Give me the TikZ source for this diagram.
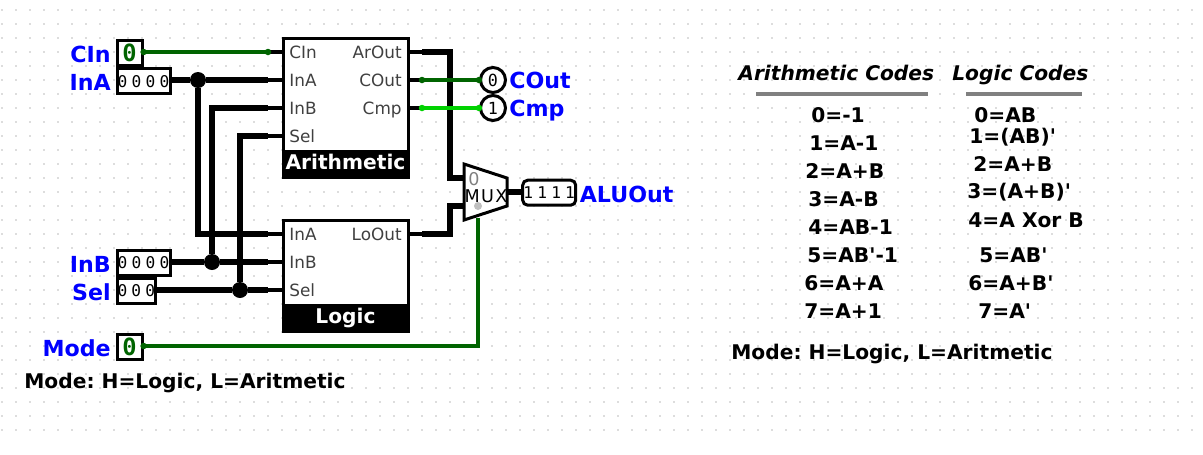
\documentclass[tikz,border=0pt]{standalone}
\usepackage{fontspec}
\setmainfont{DejaVu Sans}[Ligatures=TeXOff]
\newfontfamily\pinfont[LetterSpace=26]{DejaVu Sans Mono}
\newfontfamily\bitfont{DejaVu Sans Mono}
\newfontfamily\muxfont[LetterSpace=8]{DejaVu Sans}
\def\px{0.02cm}
\definecolor{wirelo}{HTML}{006400}
\definecolor{wirehi}{HTML}{00D200}
\definecolor{griddot}{HTML}{707070}
\tikzset{
  tunnel/.style={inner sep=0pt, text=blue, font=\fontsize{12.6}{14}\selectfont\bfseries},
  notes/.style={inner sep=0pt, anchor=base west, text=black, font=\fontsize{11.5}{14}\selectfont\bfseries},
  heads/.style={notes, font=\fontsize{11.5}{14}\selectfont\bfseries\itshape},
  portname/.style={inner sep=0pt, text=black!75!white, font=\fontsize{9.6}{12}\selectfont},
  chipbox/.style={draw=black, fill=white, line width=3*\px, minimum width=125*\px},
  chipname/.style={draw=black, fill=black, line width=3*\px, minimum width=125*\px, minimum height=26*\px, inner sep=0pt, text height=8pt, text depth=3.12pt, text=white, font=\fontsize{11.5}{14}\selectfont\bfseries},
  pinbox/.style={draw=black, fill=white, line width=3*\px, minimum height=25*\px, inner sep=0pt, font=\fontsize{9.2}{10}\pinfont},
  pinbit/.style={pinbox, minimum width=25*\px, text=wirelo, font=\fontsize{13.5}{14}\bitfont\bfseries},
  pinout/.style={circle, draw=black, fill=white, line width=3*\px, minimum size=25*\px, inner sep=0pt, font=\fontsize{9.5}{10}\bitfont},
  junct/.style={circle, fill=black, minimum size=16*\px, inner sep=0pt},
  wireend/.style={circle, fill=#1, minimum size=6.5*\px, inner sep=0pt},
  buswire/.style={draw=black, line width=6*\px},
  stub/.style={draw=black, line width=4.5*\px},
  bitwire/.style={draw=#1, line width=4.8*\px},
  codeline/.style={draw=black!50!white, line width=3.5*\px},
}
\begin{document}
\frenchspacing
\begin{tikzpicture}[x=\px, y=-\px]
\useasboundingbox (0,0) rectangle (1203,454);
\fill[white] (0,0) rectangle (1203,454);
\foreach \gx in {0,...,85}
  \foreach \gy in {0,...,30}
    \fill[griddot] ({2+14*\gx},{10+14*\gy}) circle (0.7);

\coordinate (busx) at (450,0);
\coordinate (arCIn) at (268,52);
\coordinate (arInA) at (268,80);
\coordinate (arInB) at (268,108);
\coordinate (arSel) at (268,136);
\coordinate (arOut) at (422,52);
\coordinate (arCOut) at (422,80);
\coordinate (arCmp) at (422,108);
\coordinate (lgInA) at (268,234);
\coordinate (lgInB) at (268,262);
\coordinate (lgSel) at (268,290);
\coordinate (lgOut) at (422,234);
\coordinate (muxA) at (464,178);
\coordinate (muxB) at (464,206);
\coordinate (muxS) at (478,218);
\coordinate (muxY) at (507,192);
\coordinate (modeBend) at (478,346);

\node[pinbit] (pinC) at (129.6,53) {0};
\node[pinbox, minimum width=53*\px] (pinA) at (143.5,81.3) {0000};
\node[pinbox, minimum width=53*\px] (pinB) at (143.5,263) {0000};
\node[pinbox, minimum width=38.5*\px] (pinS) at (136.3,291) {000};
\node[pinbit] (pinM) at (129.6,347) {0};
\node[pinbox, rounded corners=5*\px, minimum width=53*\px] (pinY) at (549.2,192.7) {1111};

\node[junct] (jA) at (198,80) {};
\node[junct] (jB) at (212,262) {};
\node[junct] (jS) at (240,290) {};

\draw[stub] (arInA) -- +(14,0);
\draw[stub] (arInB) -- +(14,0);
\draw[stub] (arSel) -- +(14,0);
\draw[stub] (arCIn) -- +(14,0);
\draw[stub] (arOut) -- +(-14,0);
\draw[stub] (arCOut) -- +(-14,0);
\draw[stub] (arCmp) -- +(-14,0);
\draw[stub] (lgInA) -- +(14,0);
\draw[stub] (lgInB) -- +(14,0);
\draw[stub] (lgSel) -- +(14,0);
\draw[stub] (lgOut) -- +(-14,0);

\draw[buswire] (pinA.east |- jA) -- (jA) -- (arInA);
\draw[buswire] (jA) -- (lgInA -| jA) -- (lgInA);
\draw[buswire] (pinB.east |- jB) -- (jB) -- (lgInB);
\draw[buswire] (jB) -- (arInB -| jB) -- (arInB);
\draw[buswire] (pinS.east |- jS) -- (jS) -- (lgSel);
\draw[buswire] (jS) -- (arSel -| jS) -- (arSel);
\draw[buswire] (arOut) -- (arOut -| busx) -- (muxA -| busx) -- (muxA);
\draw[buswire] (lgOut) -- (lgOut -| busx) -- (muxB -| busx) -- (muxB);
\draw[buswire] (muxY) -- (pinY.west |- muxY);

\node[pinout] (pinCo) at (493,80) {0};
\node[pinout] (pinCm) at (493,108) {1};

\draw[bitwire=wirelo] (pinC.east |- arCIn) -- (arCIn);
\draw[bitwire=wirelo] (arCOut) -- (pinCo.west);
\draw[bitwire=wirehi] (arCmp) -- (pinCm.west);
\draw[bitwire=wirelo] (pinM.east |- modeBend) -- (modeBend) -- (muxS);

\node[wireend=wirelo] (dotC) at (pinC.east |- arCIn) {};
\node[wireend=wirelo] (dotAr) at (arCIn) {};
\node[wireend=wirelo] (dotCo) at (arCOut) {};
\node[wireend=wirehi] (dotCm) at (arCmp) {};
\node[wireend=wirelo] (dotCoR) at (pinCo.west) {};
\node[wireend=wirehi] (dotCmR) at (pinCm.west) {};
\node[wireend=wirelo] (dotM) at (pinM.east |- modeBend) {};

\node[chipbox, minimum height=139*\px] (arith) at (345.5,108.3) {};
\node[chipname, anchor=south] (arithname) at (arith.south) {Arithmetic};
\node[chipbox, minimum height=111*\px] (logic) at (345.5,276.3) {};
\node[chipname, anchor=south] (logicname) at (logic.south) {Logic};

\node[portname, anchor=base west] (tArCIn) at (289,58) {CIn};
\node[portname, anchor=base west] (tArInA) at (289,86) {InA};
\node[portname, anchor=base west] (tArInB) at (289,114) {InB};
\node[portname, anchor=base west] (tArSel) at (289,142) {Sel};
\node[portname, anchor=base east] (tArOut) at (402,58) {ArOut};
\node[portname, anchor=base east] (tArCOut) at (402,86) {COut};
\node[portname, anchor=base east] (tArCmp) at (402,114) {Cmp};
\node[portname, anchor=base west] (tLgInA) at (289,240) {InA};
\node[portname, anchor=base west] (tLgInB) at (289,268) {InB};
\node[portname, anchor=base west] (tLgSel) at (289,296) {Sel};
\node[portname, anchor=base east] (tLgOut) at (402,240) {LoOut};

\draw[black, fill=white, line width=3*\px, line join=miter] (464,164) -- (507,178) -- (507,206) -- (464,220) -- cycle;
\node[inner sep=0pt, anchor=base, text=black!50!white, font=\fontsize{10}{10}\selectfont] (mux0) at (474,185) {0};
\node[inner sep=0pt, anchor=base, font=\fontsize{10}{12}\muxfont] (muxname) at (486,202) {MUX};
\node[circle, fill=black!25!white, minimum size=8*\px, inner sep=0pt] (muxsel) at (478,206) {};

\node[tunnel, anchor=base east] (lblC) at (111,62) {CIn};
\node[tunnel, anchor=base east] (lblA) at (111,90) {InA};
\node[tunnel, anchor=base east] (lblB) at (111,272) {InB};
\node[tunnel, anchor=base east] (lblS) at (111,300) {Sel};
\node[tunnel, anchor=base east] (lblM) at (111,356) {Mode};
\node[tunnel, anchor=base west] (lblCo) at (509,88) {COut};
\node[tunnel, anchor=base west] (lblCm) at (509,116) {Cmp};
\node[tunnel, anchor=base west] (lblY) at (579.5,202) {ALUOut};

\node[notes] (modeA) at (24,388) {Mode: H=Logic, L=Aritmetic};
\node[notes] (modeB) at (731,359) {Mode: H=Logic, L=Aritmetic};

\node[heads] (headA) at (738,80) {Arithmetic Codes};
\node[heads] (headL) at (952,80) {Logic Codes};
\coordinate (ruleAa) at (756,94);
\coordinate (ruleAb) at (928,94);
\coordinate (ruleLa) at (966,94);
\coordinate (ruleLb) at (1082,94);
\draw[codeline] (ruleAa) -- (ruleAb);
\draw[codeline] (ruleLa) -- (ruleLb);

\node[notes] (ca0) at (811,122) {0=-1};
\node[notes] (ca1) at (809,150) {1=A-1};
\node[notes] (ca2) at (805,178) {2=A+B};
\node[notes] (ca3) at (808,206) {3=A-B};
\node[notes] (ca4) at (808,234) {4=AB-1};
\node[notes] (ca5) at (807,262) {5=AB'-1};
\node[notes] (ca6) at (804,290) {6=A+A};
\node[notes] (ca7) at (804,318) {7=A+1};

\node[notes] (cl0) at (974,122) {0=AB};
\node[notes] (cl1) at (969,143) {1=(AB)'};
\node[notes] (cl2) at (973,171) {2=A+B};
\node[notes] (cl3) at (967,198) {3=(A+B)'};
\node[notes] (cl4) at (968,227) {4=A Xor B};
\node[notes] (cl5) at (979,262) {5=AB'};
\node[notes] (cl6) at (968,290) {6=A+B'};
\node[notes] (cl7) at (978,318) {7=A'};
\end{tikzpicture}
\end{document}
